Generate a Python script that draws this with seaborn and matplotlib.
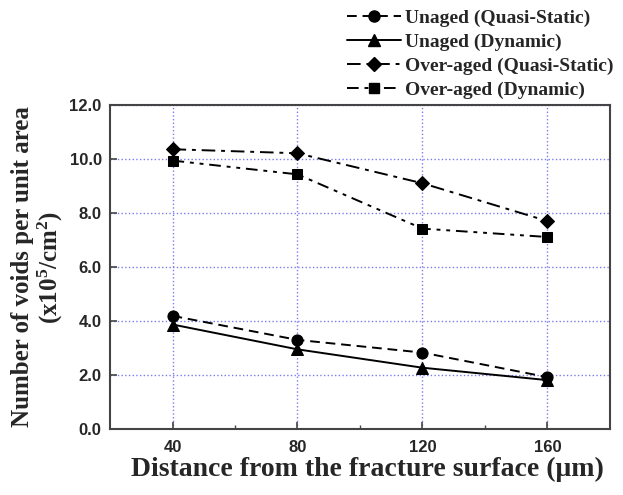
import matplotlib
matplotlib.use("Agg")
import matplotlib.pyplot as plt
import seaborn as sns
from matplotlib.lines import Line2D

distance = [40, 80, 120, 160]
unaged_qs = [4.19, 3.30, 2.83, 1.92]
unaged_dyn = [3.87, 2.95, 2.27, 1.81]
over_qs = [10.36, 10.21, 9.10, 7.70]
over_dyn = [9.94, 9.43, 7.42, 7.11]
labels = ["Unaged (Quasi-Static)", "Unaged (Dynamic)",
          "Over-aged (Quasi-Static)", "Over-aged (Dynamic)"]
x_ticks = [40, 80, 120, 160]
y_ticks = [0.0, 2.0, 4.0, 6.0, 8.0, 10.0, 12.0]

sns.set_theme(style="white")
plt.rcParams['font.family'] = ['Liberation Serif', 'DejaVu Serif']
plt.rcParams['mathtext.fontset'] = 'custom'
plt.rcParams['mathtext.rm'] = 'Liberation Serif:bold'
plt.rcParams['mathtext.bf'] = 'Liberation Serif:bold'
plt.rcParams['mathtext.it'] = 'Liberation Serif:bold:italic'

fig = plt.figure(figsize=(6.23, 4.95), dpi=100)
ax = fig.add_axes([0.1766, 0.1333, 0.8024, 0.6547])

series = [unaged_qs, unaged_dyn, over_qs, over_dyn]
markers = ["o", "^", "D", "s"]
msizes = [8, 8, 7, 7]
styles = [(0, (5, 3)), "-", (0, (7, 3, 2, 3)), (0, (6, 3, 2, 3, 2, 3))]

handles = []
for vals, mk, ms, ls, lab in zip(series, markers, msizes, styles, labels):
    sns.lineplot(x=distance, y=vals, ax=ax, color="black", marker=mk,
                 markersize=ms, linestyle=ls, linewidth=1.4,
                 markeredgecolor="black", legend=False)
    handles.append(Line2D([], [], color="black", marker=mk, markersize=ms,
                          linestyle=ls, linewidth=1.4, label=lab))

ax.set_xlim(20, 180)
ax.set_ylim(0, 12)
ax.set_xticks(x_ticks)
ax.set_xticks([60, 100, 140], minor=True)
ax.set_yticks(y_ticks)
ax.set_yticklabels([f"{v:.1f}" for v in y_ticks])
ax.grid(True, which="major", color="#7b7bee", linestyle=":", linewidth=1.0)
ax.set_axisbelow(True)
for s in ax.spines.values():
    s.set_color("#444444")
    s.set_linewidth(1.5)
ax.tick_params(axis="both", which="major", direction="in", length=5,
               width=1.2, color="#444444", labelsize=12, pad=6,
               bottom=True, left=True)
ax.tick_params(axis="x", which="major", pad=8)
ax.tick_params(axis="x", which="minor", direction="in", length=3,
               width=1.0, color="#444444", bottom=True)
for t in ax.get_xticklabels() + ax.get_yticklabels():
    t.set_fontfamily("Liberation Sans")
    t.set_fontweight("bold")

ax.set_xlabel("Distance from the fracture surface (\u03bcm)", fontsize=20,
              fontweight="bold", labelpad=6)
ax.xaxis.set_label_coords(0.514, -0.085)
ax.set_ylabel("Number of voids per unit area\n(x10$^{5}$/cm$^{2}$)",
              fontsize=18, fontweight="bold", labelpad=3, linespacing=1.1)

fig.legend(handles=handles, loc="upper left", bbox_to_anchor=(0.538, 1.005),
           frameon=False, prop={"family": "Liberation Serif", "weight": "bold",
                                "size": 14},
           handlelength=2.8, handletextpad=0.2, labelspacing=0.33,
           borderaxespad=0.2)

fig.savefig("out.png", dpi=100)
